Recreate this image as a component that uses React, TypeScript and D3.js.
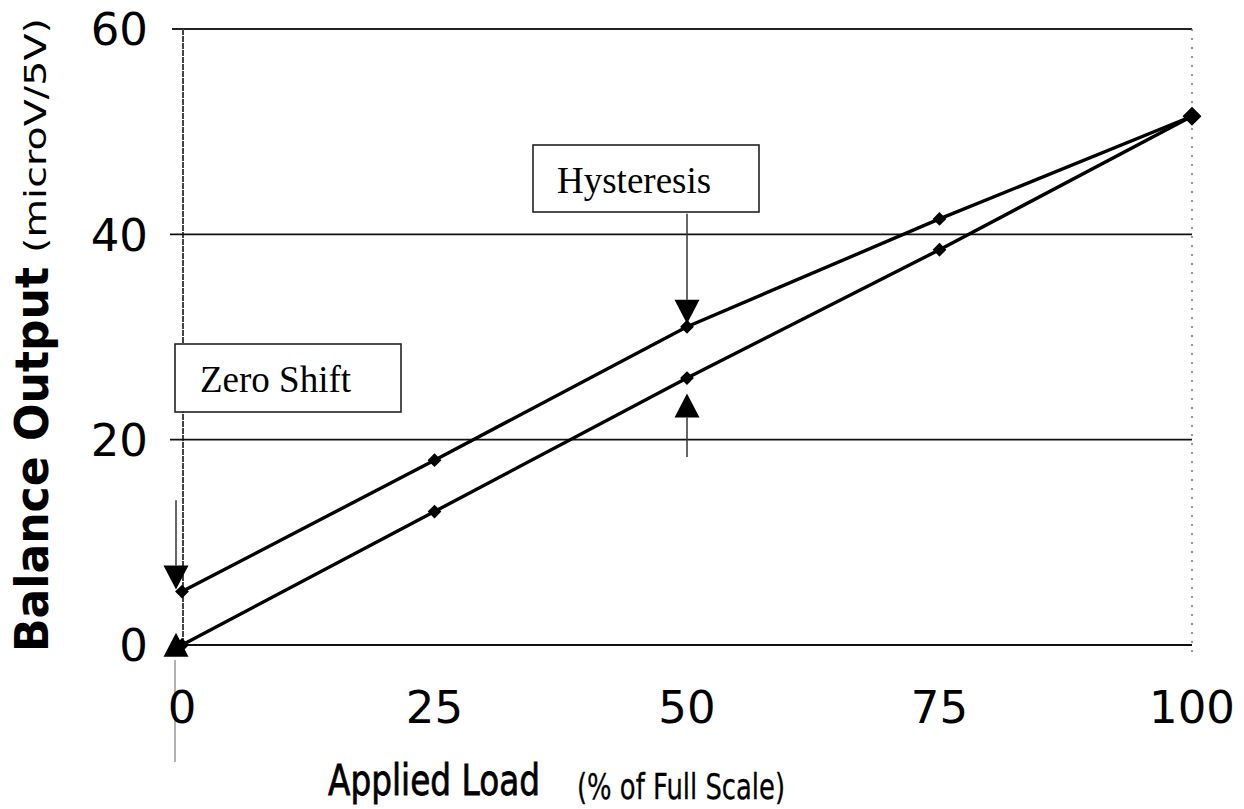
import React from "react";
import * as d3 from "d3";

const loads = [0, 25, 50, 75, 100];
const unloading = [5.2, 18, 31, 41.5, 51.5];
const loading = [0, 13, 26, 38.5, 51.5];
const xTicks = [0, 25, 50, 75, 100];
const yTicks = [0, 20, 40, 60];
const gridValues = [20, 40];

// arrows: x value, apex value, direction (1 = pointing down, -1 = pointing up), tail value
const arrows = [
  { x: 0, tip: 5.4, dir: 1, tail: 14.1, dx: -6 },
  { x: 0, tip: 1.2, dir: -1, tail: 1.2, dx: -6 },
  { x: 50, tip: 31.3, dir: 1, tail: 42.0, dx: 0 },
  { x: 50, tip: 24.5, dir: -1, tail: 18.3, dx: 0 },
];

const W = 1244;
const H = 809;

export default function App() {
  const x = d3.scaleLinear().domain([0, 100]).range([182, 1192]);
  const y = d3.scaleLinear().domain([0, 60]).range([645, 29]);

  const line = d3
    .line<number>()
    .x((_, i) => x(loads[i]))
    .y((d) => y(d));

  const marker = d3.symbol().type(d3.symbolSquare).size(95)() as string;
  const bigMarker = d3.symbol().type(d3.symbolSquare).size(170)() as string;

  const triW = 12.5;
  const triH = 24;

  return (
    <svg
      width={W}
      height={H}
      style={{ position: "absolute", left: 0, top: 0, background: "#fff" }}
    >
      <rect x={0} y={0} width={W} height={H} fill="#fff" />
      {/* plot frame */}
      <line x1={172} x2={1192} y1={y(60)} y2={y(60)} stroke="#222" strokeWidth={2} />
      <line x1={183} x2={183} y1={y(60)} y2={y(0)} stroke="#444" strokeWidth={2} strokeDasharray="6,1" />
      <line x1={1192} x2={1192} y1={y(60)} y2={y(0) + 10} stroke="#777" strokeWidth={1.5} strokeDasharray="2,7" />
      {gridValues.map((g) => (
        <line key={g} x1={170} x2={1192} y1={y(g)} y2={y(g)} stroke="#111" strokeWidth={1.6} />
      ))}
      <line x1={176} x2={1192} y1={y(0)} y2={y(0)} stroke="#111" strokeWidth={2.2} />
      <line x1={175} x2={175} y1={660} y2={762} stroke="#999" strokeWidth={1.5} />

      {/* y tick labels */}
      {yTicks.map((t) => (
        <text
          key={t}
          x={148}
          y={y(t)}
          dy="0.36em"
          textAnchor="end"
          fontFamily="DejaVu Sans"
          fontSize={45}
          fill="#000"
        >
          {t}
        </text>
      ))}
      {/* x tick labels */}
      {xTicks.map((t) => (
        <text
          key={t}
          x={x(t)}
          y={723}
          textAnchor="middle"
          fontFamily="DejaVu Sans"
          fontSize={45}
          fill="#000"
        >
          {t}
        </text>
      ))}

      {/* axis titles */}
      <text
        x={328}
        y={795}
        fontFamily="DejaVu Sans"
        fontSize={42}
        textLength={212}
        lengthAdjust="spacingAndGlyphs"
        stroke="#000"
        strokeWidth={0.8}
        fill="#000"
      >
        Applied Load
      </text>
      <text
        x={577}
        y={799}
        fontFamily="DejaVu Sans"
        fontSize={35}
        textLength={208}
        lengthAdjust="spacingAndGlyphs"
        stroke="#000"
        strokeWidth={0.3}
        fill="#000"
      >
        (% of Full Scale)
      </text>
      <g transform="translate(48,652) rotate(-90)">
        <text
          x={0}
          y={0}
          fontFamily="DejaVu Sans"
          fontWeight="bold"
          fontSize={46}
          textLength={385}
          lengthAdjust="spacingAndGlyphs"
          fill="#000"
        >
          Balance Output
        </text>
        <text
          x={399}
          y={-2}
          fontFamily="DejaVu Sans"
          fontSize={30}
          textLength={235}
          lengthAdjust="spacingAndGlyphs"
          fill="#000"
        >
          (microV/5V)
        </text>
      </g>

      {/* data lines */}
      <path d={line(unloading) as string} fill="none" stroke="#000" strokeWidth={3.4} />
      <path d={line(loading) as string} fill="none" stroke="#000" strokeWidth={3.4} />
      {loads.map((l, i) => (
        <path
          key={"u" + l}
          d={i === loads.length - 1 ? bigMarker : marker}
          transform={`translate(${x(l)},${y(unloading[i])}) rotate(45)`}
          fill="#000"
        />
      ))}
      {loads.map((l, i) => (
        <path
          key={"l" + l}
          d={i === loads.length - 1 ? bigMarker : marker}
          transform={`translate(${x(l)},${y(loading[i])}) rotate(45)`}
          fill="#000"
        />
      ))}

      {/* arrows */}
      {arrows.map((a, i) => {
        const cx = x(a.x) + a.dx;
        const tipY = y(a.tip);
        const baseY = tipY - a.dir * triH;
        const tailY = y(a.tail);
        const p = d3.path();
        p.moveTo(cx, tipY);
        p.lineTo(cx - triW, baseY);
        p.lineTo(cx + triW, baseY);
        p.closePath();
        return (
          <g key={i}>
            {a.tail !== a.tip && (
              <line x1={cx} x2={cx} y1={tailY} y2={baseY} stroke="#333" strokeWidth={1.5} />
            )}
            <path d={p.toString()} fill="#000" />
          </g>
        );
      })}

      {/* annotation boxes */}
      <rect x={533} y={145} width={226} height={67} fill="#fff" stroke="#222" strokeWidth={1.6} />
      <text x={557} y={193} fontFamily="Liberation Serif" fontSize={37} fill="#000">
        Hysteresis
      </text>
      <rect x={175} y={344} width={226} height={68} fill="#fff" stroke="#222" strokeWidth={1.6} />
      <text x={200} y={392} fontFamily="Liberation Serif" fontSize={37} fill="#000">
        Zero Shift
      </text>
    </svg>
  );
}
